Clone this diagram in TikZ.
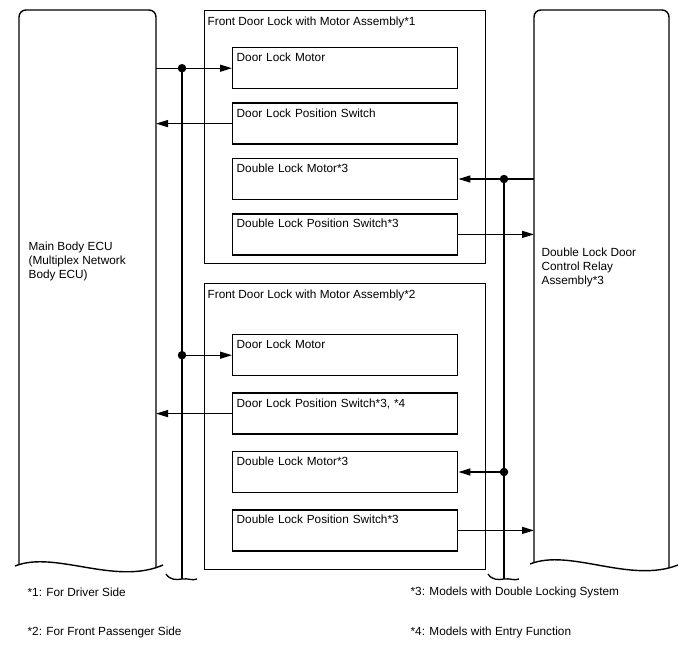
\documentclass[tikz,border=0pt]{standalone}
\usepackage{fontspec}
\setmainfont{Liberation Sans}
\usetikzlibrary{arrows.meta, positioning}

\begin{document}
\begin{tikzpicture}[
	x=1pt, y=-1pt,
	font=\fontsize{11.8}{14}\selectfont,
	line width=1.3pt,
	node distance=13pt,
	unit/.style={draw, line width=1.4pt, minimum width=281pt, anchor=north west, inner sep=0pt},
	unittitle/.style={anchor=north west, inner xsep=3pt, inner ysep=6pt},
	part/.style={draw, line width=1.4pt, text width=217pt, text height=9pt, text depth=22pt, inner xsep=4pt, inner ysep=5pt, align=left},
	ecubox/.style={minimum width=137pt, minimum height=556pt, anchor=north west, inner sep=0pt, outer sep=0pt},
	boxname/.style={anchor=west, align=left, inner sep=0pt},
	footnote/.style={anchor=west, inner sep=0pt},
	junction/.style={circle, fill, inner sep=0pt, minimum size=8.5pt},
	arrow/.style={-{Triangle[length=12pt, width=7pt]}}
	]
	
	\useasboundingbox (0,0) rectangle (688,658);
	
	% ECU and relay
	\node[ecubox] (ecu) at (19,10) {};
	\node[ecubox, minimum width=135pt] (relay) at (534,10) {};
	\draw[line width=1.4pt, rounded corners=7pt] ([yshift=1.5pt]ecu.south west) |- (ecu.north) -| ([yshift=-2pt]ecu.south east);
	\draw[line width=1.4pt] (15,566) .. controls (55,550) and (115,586) .. (163,565);
	\draw[line width=1.4pt, rounded corners=7pt] ([yshift=3.5pt]relay.south west) |- (relay.north) -| ([yshift=-2pt]relay.south east);
	\draw[line width=1.4pt] (530,564) .. controls (570,548) and (630,584) .. (678,565);
	\node[boxname] (ecuname) at (28,261) {Main Body ECU\\(Multiplex Network\\Body ECU)};
	\node[boxname] (relayname) at (541,267.5) {Double Lock Door\\Control Relay\\Assembly*3};
	
	% driver side
	\node[unit, minimum height=253pt] (fd1) at (204,10) {};
	\node[unittitle] (fd1title) at (fd1.north west) {Front Door Lock with Motor Assembly*1};
	\node[part, anchor=north west] (dlm1) at (232,47) {Door Lock Motor};
	\node[part, below=of dlm1] (dlps1) {Door Lock Position Switch};
	\node[part, below=of dlps1] (dbm1) {Double Lock Motor*3};
	\node[part, below=of dbm1] (dbps1) {Double Lock Position Switch*3};
	
	% passenger side
	\node[unit, minimum height=286pt] (fd2) at (204,283) {};
	\node[unittitle] (fd2title) at (fd2.north west) {Front Door Lock with Motor Assembly*2};
	\node[part, anchor=north west] (dlm2) at (232,334) {Door Lock Motor};
	\node[part, below=16pt of dlm2] (dlps2) {Door Lock Position Switch*3, *4};
	\node[part, below=16pt of dlps2] (dbm2) {Double Lock Motor*3};
	\node[part, below=16pt of dbm2] (dbps2) {Double Lock Position Switch*3};
	
	% buses
	\coordinate (lbus) at (182,0);
	\coordinate (rbus) at (504,0);
	\coordinate (lend) at (182,579);
	\coordinate (rend) at (504,579);
	\node[junction] (j1) at (dlm1.west -| lbus) {};
	\node[junction] (j2) at (dlm2.west -| lbus) {};
	\node[junction] (j3) at (dbm1.east -| rbus) {};
	\node[junction] (j4) at (dbm2.east -| rbus) {};
	
	\draw[arrow] (ecu.east |- dlm1.west) -- (dlm1.west);
	\draw[arrow] (dlps1.west) -- (ecu.east |- dlps1.west);
	\draw[arrow] (j2.center) -- (dlm2.west);
	\draw[arrow] (dlps2.west) -- (ecu.east |- dlps2.west);
	
	\draw[arrow] (relay.west |- dbm1.east) -- (dbm1.east);
	\draw[arrow] (dbps1.east) -- (relay.west |- dbps1.east);
	\draw[arrow] (j4.center) -- (dbm2.east);
	\draw[arrow] (dbps2.east) -- (relay.west |- dbps2.east);
	
	\draw (j1.center) -- (lend);
	\draw (j3.center) -- (rend);
	\draw (166,574) .. controls (170,580) and (176,580) .. (lend) .. controls (188,578) and (192,581) .. (197,579);
	\draw (488,574) .. controls (492,580) and (498,580) .. (rend) .. controls (510,578) and (514,581) .. (519,579);
	
	% notes
	\node[footnote] (n1) at (27,592) {*1: For Driver Side};
	\node[footnote] (n2) at (27,632) {*2: For Front Passenger Side};
	\node[footnote] (n3) at (410,592) {*3: Models with Double Locking System};
	\node[footnote] (n4) at (410,632) {*4: Models with Entry Function};
	
\end{tikzpicture}
\end{document}
